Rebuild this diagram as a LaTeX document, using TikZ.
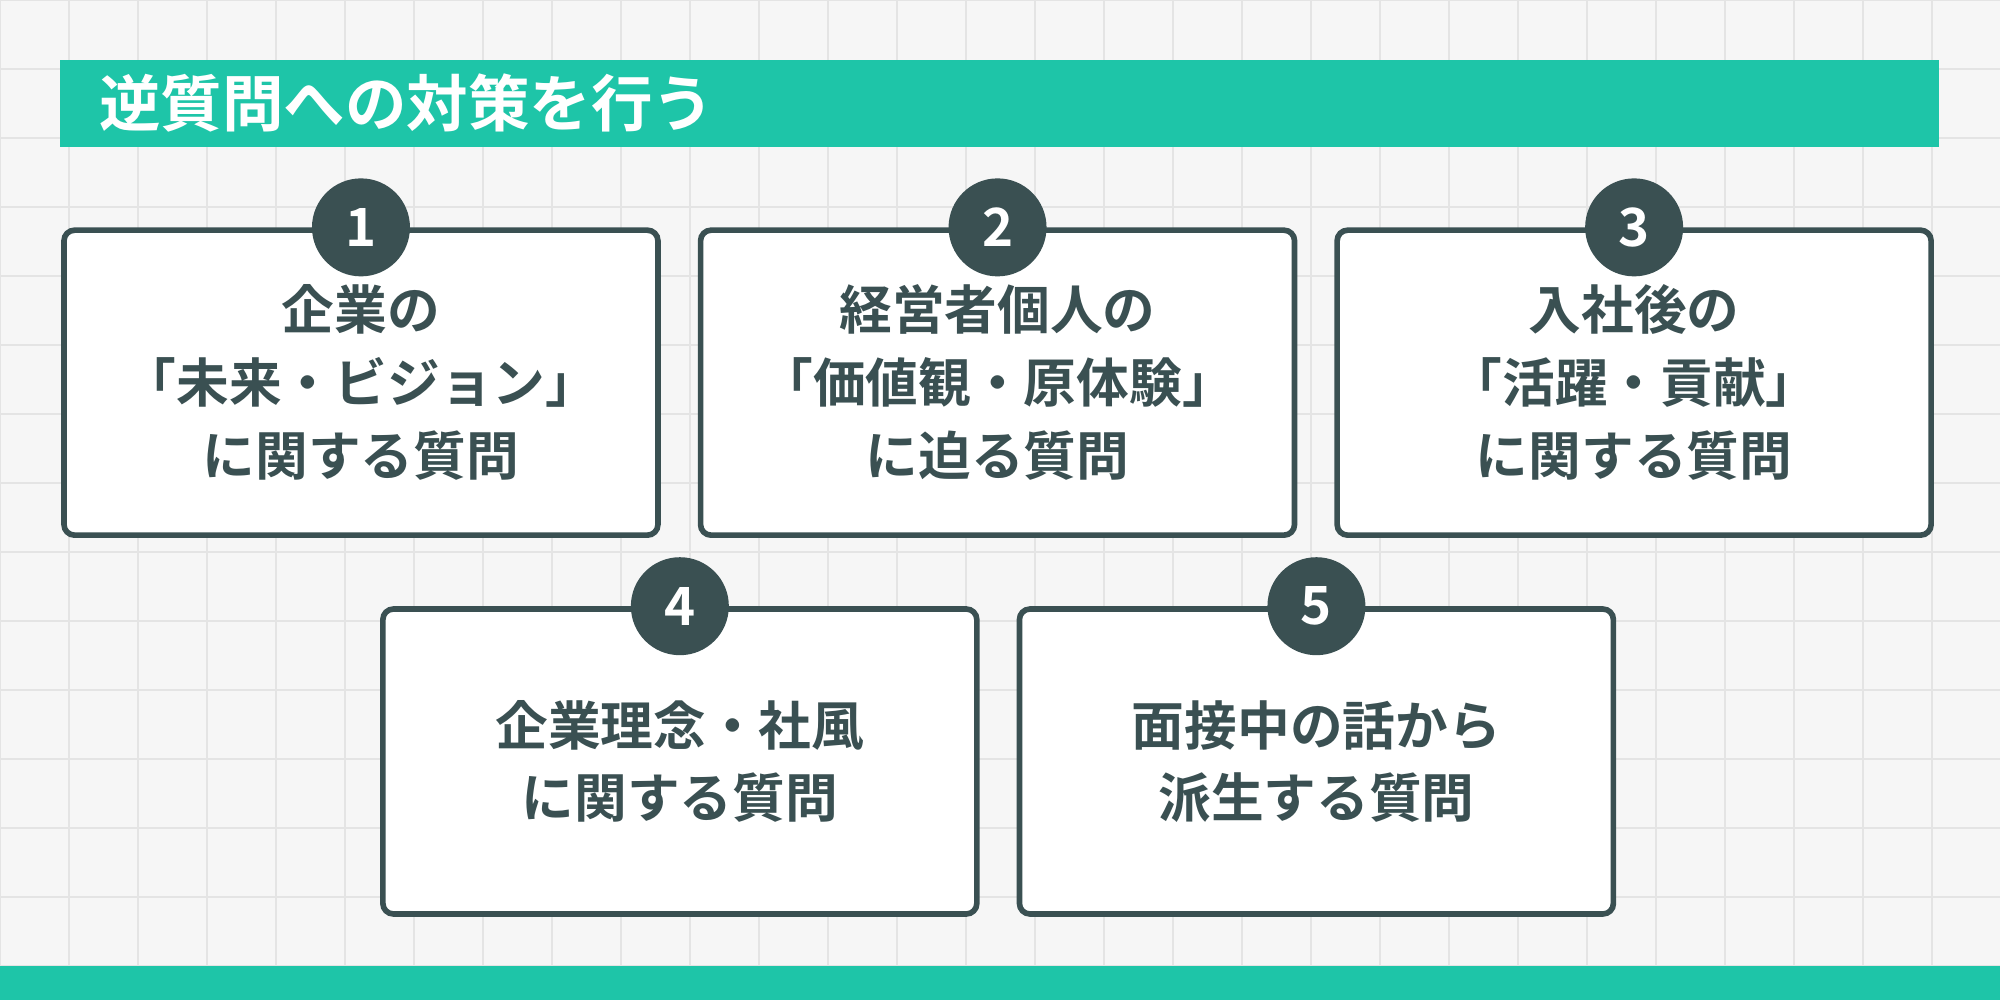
\documentclass[tikz,border=0pt]{standalone}
\usepackage{fontspec}
\setmainfont{Noto Sans CJK JP}[BoldFont={Noto Sans CJK JP Bold}]
\usetikzlibrary{positioning}
\definecolor{teal}{HTML}{1EC5A8}
\definecolor{ink}{HTML}{3A5052}
\definecolor{paper}{HTML}{F6F6F6}
\definecolor{gridc}{HTML}{E4E4E4}
\tikzset{
  card/.style={draw=ink, line width=1.6pt, fill=white, rounded corners=3pt,
    minimum width=5.94cm, minimum height=3.05cm, inner sep=0pt,
    align=center, text=ink, font=\bfseries\fontsize{15}{20.7}\selectfont},
  badge/.style={circle, fill=ink, text=white, minimum size=0.98cm, inner sep=0pt,
    font=\bfseries\fontsize{15}{15}\selectfont}
}
\begin{document}
\begin{tikzpicture}[x=0.012755cm, y=-0.012755cm]
  \useasboundingbox (0,0) rectangle (1568,784);
  \fill[paper] (0,0) rectangle (1568,784);
  \draw[gridc, line width=0.5pt] (0,0) grid[step=0.69cm] (1568,784);
  \fill[teal] (47,47) rectangle (1520,115);
  \fill[teal] (0,757) rectangle (1568,784);
  \node[anchor=west, text=white, font=\bfseries\fontsize{17.5}{17.5}\selectfont]
    (title) at (68,81) {逆質問への対策を行う};

  % upper row
  \node[card] (c1) at (283,300) {企業の\\「未来・ビジョン」\\に関する質問};
  \node[card, right=0.37cm of c1] (c2) {経営者個人の\\「価値観・原体験」\\に迫る質問};
  \node[card, right=0.37cm of c2] (c3) {入社後の\\「活躍・貢献」\\に関する質問};
  % lower row
  \node[card] (c4) at (533,597) {企業理念・社風\\に関する質問};
  \node[card, right=0.37cm of c4] (c5) {面接中の話から\\派生する質問};

  \foreach \i in {1,...,5}
    \node[badge] (b\i) at (c\i.north) {\i};
\end{tikzpicture}
\end{document}
